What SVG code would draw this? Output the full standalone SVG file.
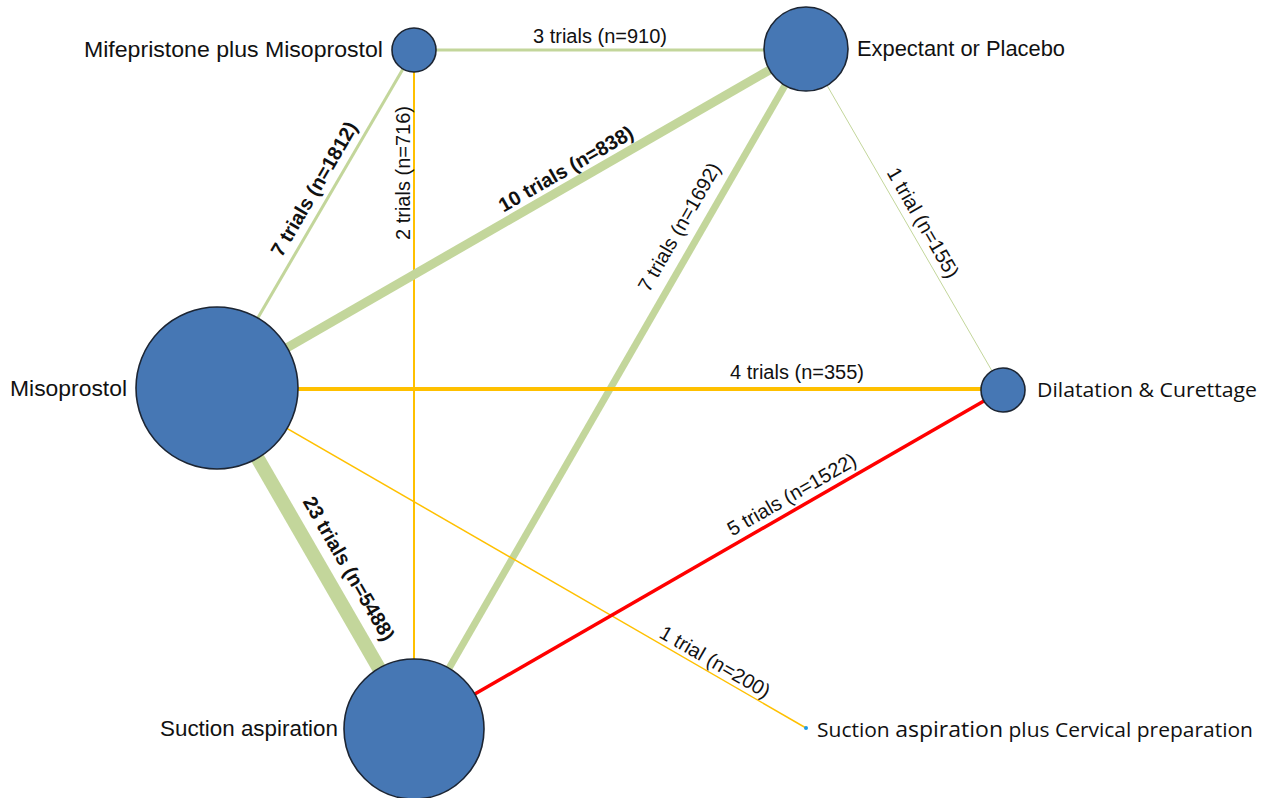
<svg xmlns="http://www.w3.org/2000/svg" width="1269" height="798" viewBox="0 0 1269 798">
  <style>
    .node { fill: #4677b4; stroke: #1c2533; stroke-width: 1.6; }
    .lbl { font-family: "Liberation Sans", Arial, sans-serif; font-size: 22.5px; fill: #111; }
    .lbl2 { font-family: "Open Sans", "Noto Sans", sans-serif; font-size: 20.5px; fill: #111; }
    .elbl { font-family: "Liberation Sans", Arial, sans-serif; font-size: 20px; fill: #111; text-anchor: middle; }
    .bold { font-weight: bold; }
    .green { stroke: #c3d69b; fill: none; }
    .orange { stroke: #ffc000; fill: none; }
    .red { stroke: #ff0000; fill: none; }
  </style>
  <rect width="1269" height="798" fill="#ffffff"/>

  <!-- connectors -->
  <g id="connectors">
    <line class="green" x1="414" y1="50" x2="806" y2="50" stroke-width="3"/>
    <line class="green" x1="414" y1="50" x2="217" y2="388" stroke-width="3"/>
    <line class="orange" x1="414" y1="50" x2="414" y2="729" stroke-width="2"/>
    <line class="green" x1="217" y1="388" x2="806" y2="49" stroke-width="9"/>
    <line class="green" x1="414" y1="729" x2="806" y2="49" stroke-width="7"/>
    <line class="green" x1="806" y1="49" x2="1003" y2="390" stroke-width="1"/>
    <line class="orange" x1="217" y1="389" x2="1003" y2="389" stroke-width="4"/>
    <line class="green" x1="217" y1="388" x2="414" y2="729" stroke-width="14"/>
    <line class="orange" x1="217" y1="388" x2="806" y2="728" stroke-width="1.5"/>
    <line class="red" x1="414" y1="729" x2="1003" y2="390" stroke-width="3.5"/>

    <!-- connector labels -->
    <text class="elbl" x="600" y="43">3 trials (n=910)</text>
    <text class="elbl bold" transform="translate(328.2,197.2) rotate(-59.76)" y="-9.5">7 trials (n=1812)</text>
    <text class="elbl" transform="translate(414,173) rotate(-90)" y="-4">2 trials (n=716)</text>
    <text class="elbl bold" transform="translate(573.8,182.6) rotate(-29.92)" y="-9">10 trials (n=838)</text>
    <text class="elbl" transform="translate(697.3,237.5) rotate(-60.04)" y="-14">7 trials (n=1692)</text>
    <text class="elbl" transform="translate(912,229.1) rotate(60)" y="-6">1 trial (n=155)</text>
    <text class="elbl" x="797" y="379">4 trials (n=355)</text>
    <text class="elbl" transform="translate(799.2,507.3) rotate(-29.92)" y="-8">5 trials (n=1522)</text>
    <text class="elbl bold" transform="translate(328.2,580.5) rotate(60)" y="-17">23 trials (n=5488)</text>
    <text class="elbl" transform="translate(709.1,672.1) rotate(30)" y="-5">1 trial (n=200)</text>
  </g>

  <!-- nodes -->
  <g id="node-mifepristone-misoprostol">
    <circle class="node" cx="414" cy="50" r="22"/>
    <text class="lbl" x="84" y="57" textLength="299" lengthAdjust="spacingAndGlyphs">Mifepristone plus Misoprostol</text>
  </g>
  <g id="node-expectant-placebo">
    <circle class="node" cx="806" cy="49" r="42"/>
    <text class="lbl" x="857" y="56" textLength="208" lengthAdjust="spacingAndGlyphs">Expectant or Placebo</text>
  </g>
  <g id="node-misoprostol">
    <circle class="node" cx="217" cy="388" r="81"/>
    <text class="lbl" x="10" y="396" textLength="117" lengthAdjust="spacingAndGlyphs">Misoprostol</text>
  </g>
  <g id="node-dilatation-curettage">
    <circle class="node" cx="1003" cy="390" r="22"/>
    <text class="lbl2" x="1037" y="397" textLength="220" lengthAdjust="spacingAndGlyphs">Dilatation &amp; Curettage</text>
  </g>
  <g id="node-suction-aspiration">
    <circle class="node" cx="414" cy="729" r="70"/>
    <text class="lbl" x="160" y="736" textLength="178" lengthAdjust="spacingAndGlyphs">Suction aspiration</text>
  </g>
  <g id="node-suction-cervical">
    <circle cx="806" cy="728" r="2" fill="#1e9be6"/>
    <text class="lbl2" x="817" y="737" textLength="436" lengthAdjust="spacingAndGlyphs">Suction <tspan font-size="22.5">aspiration</tspan> plus Cervical preparation</text>
  </g>
</svg>
